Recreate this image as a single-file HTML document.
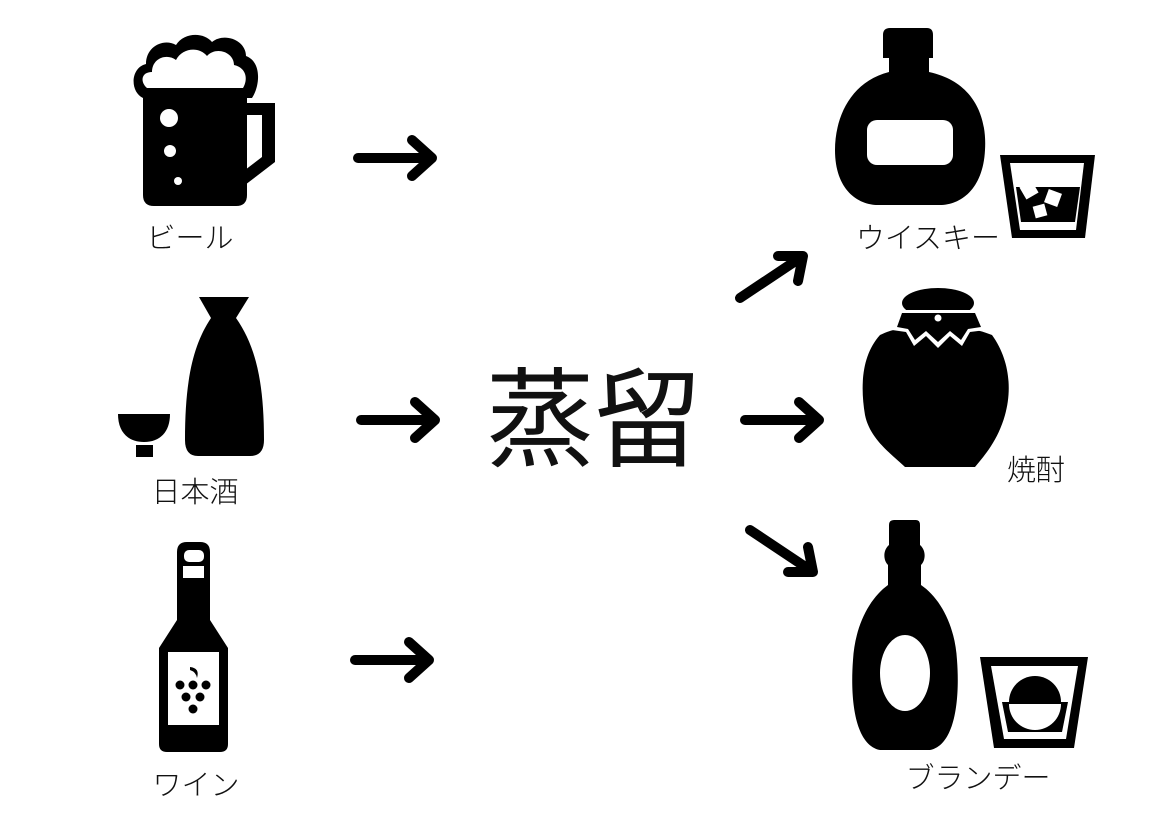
<!DOCTYPE html>
<html><head><meta charset="utf-8"><style>
html,body{margin:0;padding:0;background:#fff}
svg{display:block}
text{font-family:"Liberation Sans","Noto Sans CJK JP",sans-serif;fill:#111}
.lbl{font-size:29px;font-weight:300}
</style></head><body>
<svg width="1170" height="827" viewBox="0 0 1170 827" xmlns="http://www.w3.org/2000/svg">
<rect width="1170" height="827" fill="#fff"/>
<!-- Beer -->
<g fill="#000">
<path d="M143 98 C130 92 130 68 146 64 C146 46 164 38 176 45 C184 32 204 32 212 42 C224 32 246 40 246 56 C262 62 260 86 252 98 Z"/>
<path d="M143 95 H247 V195 Q247 206 236 206 H154 Q143 206 143 195 Z"/>
<path d="M245 103 H275 V162 L245 185 V170 L262 157 V115 H245 Z"/>
</g>
<path d="M147 88 C140 82 141 72 152 72 C152 58 167 53 176 60 C182 48 199 46 207 56 C216 46 234 52 234 65 C247 68 248 80 243 88 Z" fill="#fff"/>
<circle cx="169" cy="118" r="9" fill="#fff"/><circle cx="170" cy="151" r="6" fill="#fff"/><circle cx="178" cy="181" r="4" fill="#fff"/>
<text class="lbl" x="190" y="248" text-anchor="middle">ビール</text>
<!-- Sake -->
<path d="M199 297 H249 L236 318 C255 345 264 380 264 440 Q264 456 250 456 H198 Q185 456 185 440 C185 380 193 345 211 318 Z" fill="#000"/>
<path d="M118 414 H170 C170 432 160 442 144 442 C128 442 118 432 118 414 Z" fill="#000"/>
<rect x="136" y="445" width="17" height="12" fill="#000"/>
<text class="lbl" x="195" y="502" text-anchor="middle">日本酒</text>
<!-- Wine -->
<path d="M177 552 Q177 542 187 542 H200 Q210 542 210 552 V620 L228 648 V744 Q228 752 220 752 H167 Q159 752 159 744 V648 L177 620 Z" fill="#000"/>
<rect x="184" y="550" width="20" height="12" rx="5" fill="#fff"/>
<rect x="183" y="566" width="21" height="12" fill="#fff"/>
<rect x="168" y="652" width="51" height="73" fill="#fff"/>
<g fill="#000"><circle cx="180" cy="685" r="4.5"/><circle cx="193" cy="685" r="4.5"/><circle cx="206" cy="685" r="4.5"/><circle cx="186" cy="697" r="4.5"/><circle cx="200" cy="697" r="4.5"/><circle cx="193" cy="709" r="4.5"/>
<path d="M190 667 Q200 668 197 678 Q196 672 190 670 Z"/></g>
<text class="lbl" x="196" y="795" text-anchor="middle">ワイン</text>
<!-- arrows -->
<g stroke="#000" stroke-width="10" stroke-linecap="round" stroke-linejoin="round" fill="none">
<path d="M358 158 H430 M412 140 L432 158 L412 176"/>
<path d="M361 420 H433 M415 402 L435 420 L415 438"/>
<path d="M355 660 H427 M409 642 L429 660 L409 678"/>
<path d="M740 298 L800 258 M778 256 L803 256 L798 281"/>
<path d="M745 420 H817 M799 402 L819 420 L799 438"/>
<path d="M750 530 L810 570 M788 572 L813 572 L808 547"/>
</g>
<text x="594" y="458" text-anchor="middle" style="font-size:108px;font-weight:400">蒸留</text>
<!-- Whisky -->
<path d="M883 35 Q883 28 890 28 H927 Q933 28 933 35 V58 H929 V72 C975 82 987 118 985 150 C983 190 960 205 940 205 H878 C858 205 835 190 835 150 C835 118 850 82 889 72 V58 H883 Z" fill="#000"/>
<rect x="867" y="120" width="86" height="45" rx="10" fill="#fff"/>
<path d="M1000 155 H1095 L1085 238 H1012 Z" fill="#000"/>
<path d="M1010 163 H1084 L1076 230 H1020 Z" fill="#fff"/>
<path d="M1016 187 H1080 L1075 222 H1021 Z" fill="#000"/>
<rect x="1022" y="183" width="14" height="14" fill="#fff" transform="rotate(-30 1029 190)"/>
<rect x="1046" y="191" width="14" height="14" fill="#fff" transform="rotate(20 1053 198)"/>
<rect x="1034" y="205" width="12" height="12" fill="#fff" transform="rotate(-15 1040 211)"/>
<text class="lbl" x="928" y="248" text-anchor="middle">ウイスキー</text>
<!-- Shochu -->
<path d="M880 335 C905 322 960 322 992 335 C1010 360 1012 390 1005 415 C998 440 985 455 975 467 H905 C893 455 870 440 865 415 C860 385 862 355 880 335 Z" fill="#000"/>
<ellipse cx="938" cy="303" rx="36" ry="15" fill="#000"/>
<path d="M898 310 L978 310 L986 330 L970 332 L962 346 L950 336 L938 348 L926 336 L914 346 L906 332 L892 330 Z" fill="#fff"/>
<path d="M902 313 L975 313 L981 327 L968 329 L961 340 L950 331 L938 342 L926 331 L915 340 L908 329 L897 327 Z" fill="#000"/>
<circle cx="938" cy="318" r="3.5" fill="#fff"/>
<text class="lbl" x="1036" y="480" text-anchor="middle">焼酎</text>
<!-- Brandy -->
<path d="M889 525 Q889 520 894 520 H916 Q920 520 920 525 V545 C926 550 926 560 921 565 V585 C940 598 955 625 957 660 C960 700 955 745 930 750 H880 C855 745 850 700 853 660 C855 625 870 598 888 585 V565 C883 560 883 550 889 545 Z" fill="#000"/>
<ellipse cx="905" cy="673" rx="25" ry="38" fill="#fff"/>
<path d="M980 657 H1088 L1074 748 H994 Z" fill="#000"/>
<path d="M991 666 H1078 L1066 739 H1004 Z" fill="#fff"/>
<path d="M1002 702 H1068 L1062 732 H1008 Z" fill="#000"/>
<path d="M1009 702 A26 26 0 0 1 1061 702 Z" fill="#000"/>
<path d="M1009 704 A26 26 0 0 0 1061 704 Z" fill="#fff"/>
<text class="lbl" x="978" y="788" text-anchor="middle">ブランデー</text>
</svg>
</body></html>
